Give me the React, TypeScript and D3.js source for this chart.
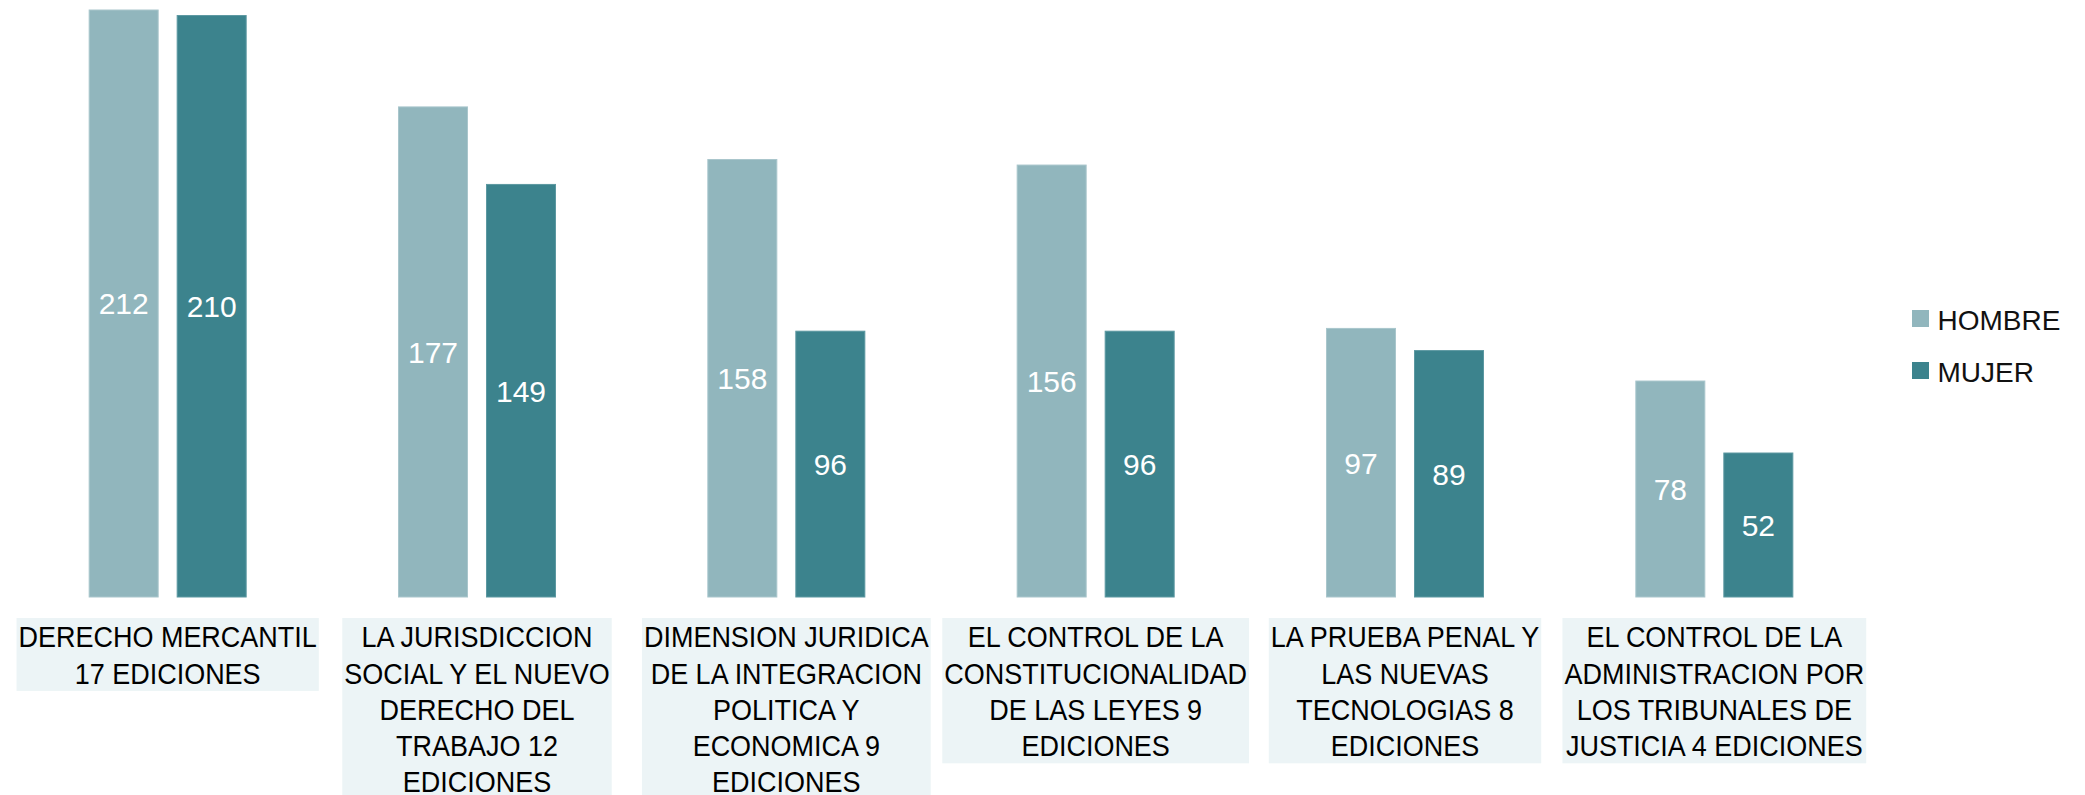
import React, { useEffect, useRef } from 'react'
import * as d3 from 'd3'

const categories = [
  ['DERECHO MERCANTIL', '17 EDICIONES'],
  ['LA JURISDICCION', 'SOCIAL Y EL NUEVO', 'DERECHO DEL', 'TRABAJO 12', 'EDICIONES'],
  ['DIMENSION JURIDICA', 'DE LA INTEGRACION', 'POLITICA Y', 'ECONOMICA 9', 'EDICIONES'],
  ['EL CONTROL DE LA', 'CONSTITUCIONALIDAD', 'DE LAS LEYES 9', 'EDICIONES'],
  ['LA PRUEBA PENAL Y', 'LAS NUEVAS', 'TECNOLOGIAS 8', 'EDICIONES'],
  ['EL CONTROL DE LA', 'ADMINISTRACION POR', 'LOS TRIBUNALES DE', 'JUSTICIA 4 EDICIONES'],
]
const seriesNames = ['HOMBRE', 'MUJER']
const hombre = [212, 177, 158, 156, 97, 78]
const mujer = [210, 149, 96, 96, 89, 52]
const colors = ['#91b6bd', '#3c838d']

export default function App() {
  const chartRef = useRef<SVGSVGElement>(null)

  useEffect(() => {
    document.body.style.margin = '0'
    const width = 2085
    const height = 795
    const baseline = 597

    const svg = d3.select(chartRef.current)
    svg.selectAll('*').remove()

    const keys = categories.map((_, i) => String(i))
    const x0 = d3.scaleBand().domain(keys).range([13, 1869]).padding(0)
    const x1 = d3
      .scaleBand()
      .domain(seriesNames)
      .range([x0.bandwidth() / 2 - 78.5, x0.bandwidth() / 2 + 78.5])
      .paddingInner(0.216)
    const y = d3.scaleLinear().domain([0, 212]).range([baseline, 10])

    const rows = keys.map((k, i) => ({ key: k, values: [hombre[i], mujer[i]] }))

    const groups = svg
      .selectAll('.grp')
      .data(rows)
      .enter()
      .append('g')
      .attr('class', 'grp')
      .attr('transform', d => `translate(${x0(d.key)},0)`)

    const bars = groups
      .selectAll('.bar')
      .data(d => d.values.map((v, j) => ({ name: seriesNames[j], v, j })))
      .enter()
      .append('g')

    bars
      .append('rect')
      .attr('x', d => x1(d.name)!)
      .attr('y', d => y(d.v))
      .attr('width', x1.bandwidth())
      .attr('height', d => baseline - y(d.v))
      .attr('fill', d => colors[d.j])
      .attr('stroke', d => (d.j === 0 ? '#a9c6cc' : '#5c98a1'))
      .attr('stroke-width', 1)

    bars
      .append('text')
      .attr('x', d => x1(d.name)! + x1.bandwidth() / 2)
      .attr('y', d => (y(d.v) + baseline) / 2)
      .attr('dy', '0.36em')
      .attr('text-anchor', 'middle')
      .attr('fill', '#fff')
      .attr('font-family', "'Liberation Sans', Arial, sans-serif")
      .attr('font-size', 30)
      .text(d => d.v)

    // category labels, condensed by scaling x, with shaded boxes behind
    const lineH = 36.2
    const boxTop = 618
    const sx = 0.9
    categories.forEach((lines, i) => {
      const cx = x0(keys[i])! + x0.bandwidth() / 2
      const g = svg.append('g')
      const rect = g.append('rect').attr('fill', '#ecf4f6')
      const txt = g
        .append('text')
        .attr('transform', `scale(${sx},1)`)
        .attr('font-family', "'Liberation Sans', Arial, sans-serif")
        .attr('font-size', 30)
        .attr('fill', '#000')
        .attr('text-anchor', 'middle')
      lines.forEach((ln, k) => {
        txt
          .append('tspan')
          .attr('x', cx / sx)
          .attr('y', boxTop + 29.5 + k * lineH)
          .text(ln)
      })
      let w = 0
      txt.selectAll<SVGTSpanElement, unknown>('tspan').each(function () {
        w = Math.max(w, this.getComputedTextLength() * sx)
      })
      rect
        .attr('x', cx - w / 2 - 2)
        .attr('y', boxTop)
        .attr('width', w + 4)
        .attr('height', lines.length * lineH + 0.5)
    })

    // legend
    const legend = svg.append('g').attr('transform', 'translate(1912,310)')
    seriesNames.forEach((n, i) => {
      legend
        .append('rect')
        .attr('x', 0)
        .attr('y', i * 52)
        .attr('width', 17)
        .attr('height', 17)
        .attr('fill', colors[i])
      legend
        .append('text')
        .attr('x', 25.5)
        .attr('y', i * 52 + 19.5)
        .attr('font-family', "'Liberation Sans', Arial, sans-serif")
        .attr('font-size', 28)
        .attr('fill', '#111')
        .text(n)
    })

    svg.attr('width', width).attr('height', height)
  }, [])

  return <svg ref={chartRef} width={2085} height={795} style={{ display: 'block' }}></svg>
}
